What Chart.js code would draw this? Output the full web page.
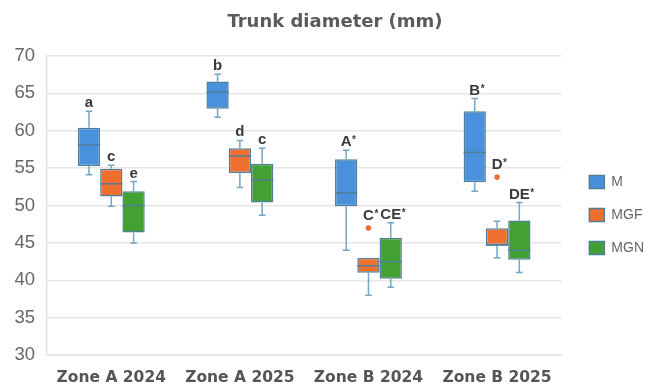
<!DOCTYPE html>
<html><head><meta charset="utf-8">
<style>html,body{margin:0;padding:0;background:#fff;}#wrap{width:645px;height:388px;position:relative;}</style>
<script src="https://cdn.jsdelivr.net/npm/chart.js@4/dist/chart.umd.min.js"></script>
</head><body><div id="wrap"><canvas id="c"></canvas></div>
<script>
const chartTitle = 'Trunk diameter (mm)';
const categories = ['Zone A 2024', 'Zone A 2025', 'Zone B 2024', 'Zone B 2025'];
const seriesNames = ['M', 'MGF', 'MGN'];
const yTickValues = [30, 35, 40, 45, 50, 55, 60, 65, 70];
// each entry: [min, q1, median, q3, max]
const M_stats   = [[54.1, 55.3, 58.1, 60.4, 62.6], [61.8, 62.95, 65.2, 66.6, 67.55], [44.0, 49.9, 51.7, 56.2, 57.4], [51.9, 53.1, 57.1, 62.6, 64.3]];
const MGF_stats = [[49.9, 51.2, 52.9, 54.9, 55.4], [52.4, 54.35, 56.6, 57.65, 58.7], [38.0, 41.0, 41.95, 43.0, 43.0], [43.0, 44.7, 44.7, 46.95, 47.9]];
const MGN_stats = [[45.0, 46.4, 50.0, 51.9, 53.2], [48.7, 50.4, 53.4, 55.6, 57.65], [39.05, 40.2, 42.5, 45.7, 47.7], [41.05, 42.75, 44.0, 48.0, 50.4]];
const M_outliers   = [null, null, null, null];
const MGF_outliers = [null, null, 47.0, 53.8];
const MGN_outliers = [null, null, null, null];
const M_letters   = ['a', 'b', 'A*', 'B*'];
const MGF_letters = ['c', 'd', 'C*', 'D*'];
const MGN_letters = ['e', 'c', 'CE*', 'DE*'];

const colors = ['#4a90dc', '#ef6f30', '#43a133'];
const boxBorder = '#4f7f98';
const whiskerColor = '#74a6c6';

function mkDataset(name, stats, outliers, letters, color) {
  return {
    label: name,
    data: stats.map(s => [s[1], s[3]]),
    stats: stats, outliers: outliers, letters: letters,
    backgroundColor: color,
    borderColor: boxBorder,
    borderWidth: 1.5,
    borderSkipped: false
  };
}

const boxplotPlugin = {
  id: 'boxplot',
  beforeDatasetsDraw(chart) {
    const ctx = chart.ctx, y = chart.scales.y;
    ctx.save();
    ctx.strokeStyle = whiskerColor;
    ctx.lineWidth = 1.5;
    chart.data.datasets.forEach((ds, di) => {
      const meta = chart.getDatasetMeta(di);
      meta.data.forEach((el, i) => {
        const s = ds.stats[i];
        const cap = el.width * 0.3;
        const yMin = y.getPixelForValue(s[0]), yMax = y.getPixelForValue(s[4]);
        const yQ1 = y.getPixelForValue(s[1]), yQ3 = y.getPixelForValue(s[3]);
        ctx.beginPath();
        if (s[4] > s[3]) {
          ctx.moveTo(el.x, yQ3); ctx.lineTo(el.x, yMax);
          ctx.moveTo(el.x - cap / 2, yMax); ctx.lineTo(el.x + cap / 2, yMax);
        }
        if (s[0] < s[1]) {
          ctx.moveTo(el.x, yQ1); ctx.lineTo(el.x, yMin);
          ctx.moveTo(el.x - cap / 2, yMin); ctx.lineTo(el.x + cap / 2, yMin);
        }
        ctx.stroke();
      });
    });
    ctx.restore();
  },
  afterDatasetsDraw(chart) {
    const ctx = chart.ctx, y = chart.scales.y;
    ctx.save();
    chart.data.datasets.forEach((ds, di) => {
      const meta = chart.getDatasetMeta(di);
      meta.data.forEach((el, i) => {
        const s = ds.stats[i];
        const half = el.width / 2;
        const yMed = y.getPixelForValue(s[2]);
        ctx.strokeStyle = boxBorder;
        ctx.lineWidth = 1.5;
        ctx.beginPath();
        ctx.moveTo(el.x - half, yMed); ctx.lineTo(el.x + half, yMed);
        ctx.stroke();
        let topPix = y.getPixelForValue(s[4]);
        let gap = 4;
        const o = ds.outliers[i];
        if (o !== null && o !== undefined) {
          const yo = y.getPixelForValue(o);
          ctx.fillStyle = ds.backgroundColor;
          ctx.beginPath(); ctx.arc(el.x, yo, 2.8, 0, Math.PI * 2); ctx.fill();
          if (yo < topPix) { topPix = yo; gap = 8; }
        }
        const txt = ds.letters[i];
        const star = txt.endsWith('*');
        const base = star ? txt.slice(0, -1) : txt;
        ctx.font = 'bold 15px "Liberation Sans", Arial, sans-serif';
        ctx.fillStyle = '#3a3a3a';
        ctx.textBaseline = 'alphabetic';
        ctx.textAlign = 'left';
        const w = ctx.measureText(base).width;
        const x0 = el.x - w / 2, yb = topPix - gap;
        ctx.fillText(base, x0, yb);
        if (star) {
          ctx.font = 'bold 10px "Liberation Sans", Arial, sans-serif';
          ctx.fillText('*', x0 + w + 0.5, yb - 3);
        }
      });
    });
    ctx.restore();
  },
  afterLayout(chart) {
    const lg = chart.legend;
    if (lg) { lg.top -= 7; lg.bottom -= 7; lg.left += 9; lg.right += 9; }
  },
  afterDraw(chart) {
    const ctx = chart.ctx;
    ctx.save();
    ctx.font = 'bold 18px "DejaVu Sans", sans-serif';
    ctx.fillStyle = '#5a5a5a';
    ctx.textAlign = 'center';
    ctx.textBaseline = 'middle';
    ctx.fillText(chartTitle, 335, 22);
    ctx.restore();
  }
};

new Chart(document.getElementById('c'), {
  type: 'bar',
  data: {
    labels: categories,
    datasets: [
      mkDataset(seriesNames[0], M_stats, M_outliers, M_letters, colors[0]),
      mkDataset(seriesNames[1], MGF_stats, MGF_outliers, MGF_letters, colors[1]),
      mkDataset(seriesNames[2], MGN_stats, MGN_outliers, MGN_letters, colors[2])
    ]
  },
  plugins: [boxplotPlugin],
  options: {
    responsive: true,
    maintainAspectRatio: false,
    animation: false,
    categoryPercentage: 0.52,
    barPercentage: 1.0,
    layout: { padding: { top: 56, right: 0, bottom: 0, left: 0 } },
    plugins: {
      tooltip: { enabled: false },
      title: { display: false },
      legend: {
        position: 'right',
        labels: {
          boxWidth: 15, boxHeight: 13, padding: 19,
          color: '#666',
          font: { family: '"Liberation Sans", Arial, sans-serif', size: 14 }
        }
      }
    },
    scales: {
      x: {
        grid: { display: false, drawTicks: false },
        border: { display: true, color: '#e2e2e2', width: 1.5 },
        ticks: {
          color: '#555', padding: 14,
          font: { family: '"DejaVu Sans", sans-serif', size: 15.5, weight: 'bold' }
        },
        afterFit(s) { s.height = 33; }
      },
      y: {
        min: yTickValues[0], max: yTickValues[yTickValues.length - 1],
        grid: { color: '#e6e6e6', lineWidth: 1.5, drawTicks: false },
        border: { display: true, color: '#e2e2e2', width: 1.5 },
        ticks: {
          stepSize: yTickValues[1] - yTickValues[0],
          color: '#666', padding: 12,
          font: { family: '"Liberation Sans", Arial, sans-serif', size: 18.5 }
        },
        afterFit(s) { s.width = 47; }
      }
    }
  }
});
</script>
</body></html>
